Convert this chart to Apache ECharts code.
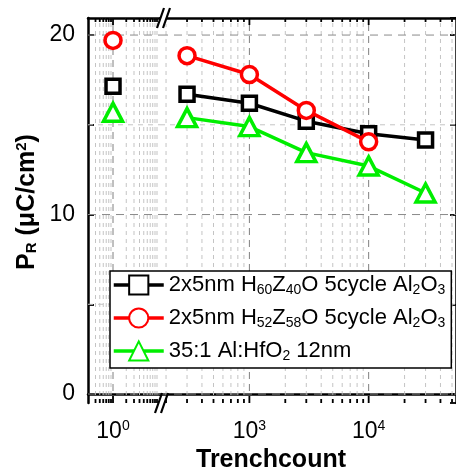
<!DOCTYPE html>
<html><head><meta charset="utf-8">
<script src="https://cdn.jsdelivr.net/npm/echarts@6/dist/echarts.min.js"></script>
<style>html,body{margin:0;padding:0;background:#fff}#c{width:456px;height:474px}</style>
</head><body><div id="c"></div>
<script>
// ---- data ----
const seriesNames = ['2x5nm H60Z40O 5cycle Al2O3', '2x5nm H52Z58O 5cycle Al2O3', '35:1 Al:HfO2 12nm'];
const legendRich = [
  '2x5nm H{s|60}Z{s|40}O 5cycle Al{s|2}O{s|3}',
  '2x5nm H{s|52}Z{s|58}O 5cycle Al{s|2}O{s|3}',
  '35:1 Al:HfO{s|2} 12nm'
];
const leftX = [1];
const rightX = [300, 1000, 3000, 10000, 30000];
const blackLeft = [17.15];
const blackRight = [16.7, 16.2, 15.2, 14.5, 14.15];
const redLeft = [19.7];
const redRight = [18.85, 17.8, 15.8, 14.05];
const greenLeft = [15.7];
const greenRight = [15.4, 14.9, 13.45, 12.7, 11.2];
const xMajorLeft = [1];
const xMinorLeft = [0.4, 0.5, 0.6, 0.7, 0.8, 0.9, 2, 3, 4, 5, 6, 7, 8, 9, 10];
const xMajorRight = [1000, 10000];
const xMinorRight = [200, 300, 400, 500, 600, 700, 800, 900, 2000, 3000, 4000, 5000, 6000, 7000, 8000, 9000, 20000, 30000, 40000, 50000];
const yMajor = [0, 10, 20];
const yMinor = [5, 15];
const xLeftRange = [0.27, 11.7];
const xRightRange = [178, 54000];
const yRange = [-0.5, 20.95];
const colors = ['#000000', '#ff0000', '#00ee00'];
const symbols = ['rect', 'circle', 'triangle'];
const symbolSizes = [14, 16, [19, 18]];

// ---- chart ----
const FONT = 'Arial, "Liberation Sans", sans-serif';
const chart = echarts.init(document.getElementById('c'), null, {renderer: 'canvas'});

function pairs(xs, ys) { return ys.map((y, i) => [xs[i], y]); }

function vGrid(params, api) {
  const x = api.value(0), major = api.value(1);
  const p0 = api.coord([x, yRange[0]]), p1 = api.coord([x, yRange[1]]);
  const L = major ? 7 : 4;
  return {type: 'group', children: [
    {type: 'line', shape: {x1: p0[0], y1: p0[1], x2: p1[0], y2: p1[1]},
      style: {stroke: major ? '#808080' : '#c4c4c4', lineWidth: 1, lineDash: major ? [7, 5] : [4, 4]}},
    {type: 'line', shape: {x1: p0[0], y1: p0[1], x2: p0[0], y2: p0[1] - L}, style: {stroke: '#000', lineWidth: 1.8}},
    {type: 'line', shape: {x1: p1[0], y1: p1[1], x2: p1[0], y2: p1[1] + L}, style: {stroke: '#000', lineWidth: 1.8}}
  ]};
}
function hGridFactory(xr) {
  return function (params, api) {
    const y = api.value(1), major = api.value(2);
    const p0 = api.coord([xr[0], y]), p1 = api.coord([xr[1], y]);
    return {type: 'line', shape: {x1: p0[0], y1: p0[1], x2: p1[0], y2: p1[1]},
      style: {stroke: major ? '#8a8a8a' : '#c4c4c4', lineWidth: 1, lineDash: major ? [8, 6] : [5, 5]}};
  };
}

const yData = yMajor.map(v => [0, v, 1]).concat(yMinor.map(v => [0, v, 0]));

const axisLineStyle = {lineStyle: {color: '#000', width: 2.5}};
function xAx(grid, range, pos, labels) {
  return {
    type: 'log', logBase: 10, gridIndex: grid, position: pos, min: range[0], max: range[1],
    axisLine: axisLineStyle, axisTick: {show: false}, splitLine: {show: false},
    axisLabel: labels ? {
      show: true, margin: 16, showMinLabel: false, showMaxLabel: false,
      formatter: v => {
        const e = Math.round(Math.log10(v));
        return labels.indexOf(e) >= 0 && Math.abs(Math.log10(v) - e) < 1e-6 ? '{b|10}{s|' + e + '}' : '';
      },
      rich: {
        b: {fontSize: 23, fontFamily: FONT, color: '#000', lineHeight: 26},
        s: {fontSize: 14, fontFamily: FONT, color: '#000', verticalAlign: 'top', lineHeight: 8}
      }
    } : {show: false}
  };
}

const series = [];
const lefts = [blackLeft, redLeft, greenLeft];
const rights = [blackRight, redRight, greenRight];
for (let i = 0; i < 3; i++) {
  const common = {
    type: 'line', name: seriesNames[i], symbol: symbols[i], symbolSize: symbolSizes[i],
    lineStyle: {color: colors[i], width: 3.5},
    itemStyle: {color: '#fff', borderColor: colors[i], borderWidth: 3.5},
    z: 5 + i, animation: false
  };
  series.push(Object.assign({}, common, {xAxisIndex: 0, yAxisIndex: 0, data: pairs(leftX, lefts[i])}));
  series.push(Object.assign({}, common, {xAxisIndex: 2, yAxisIndex: 1, data: pairs(rightX, rights[i])}));
}
series.push({type: 'custom', xAxisIndex: 0, yAxisIndex: 0, renderItem: vGrid, encode: {x: 0, y: 1}, z: 1, silent: true,
  data: xMajorLeft.map(v => [v, 1]).concat(xMinorLeft.map(v => [v, 0]))});
series.push({type: 'custom', xAxisIndex: 2, yAxisIndex: 1, renderItem: vGrid, encode: {x: 0, y: 1}, z: 1, silent: true,
  data: xMajorRight.map(v => [v, 1]).concat(xMinorRight.map(v => [v, 0]))});
series.push({type: 'custom', xAxisIndex: 0, yAxisIndex: 0, renderItem: hGridFactory(xLeftRange), encode: {x: 0, y: 1}, z: 1, silent: true,
  data: yData.map(d => [1, d[1], d[2]])});
series.push({type: 'custom', xAxisIndex: 2, yAxisIndex: 1, renderItem: hGridFactory(xRightRange), encode: {x: 0, y: 1}, z: 1, silent: true,
  data: yData.map(d => [1000, d[1], d[2]])});

const option = {
  animation: false,
  backgroundColor: '#fff',
  grid: [
    {left: 88, top: 18, width: 72, height: 385},
    {left: 160, top: 18, width: 298, height: 385}
  ],
  xAxis: [
    xAx(0, xLeftRange, 'bottom', [0]),
    xAx(0, xLeftRange, 'top', null),
    xAx(1, xRightRange, 'bottom', [3, 4]),
    xAx(1, xRightRange, 'top', null)
  ],
  yAxis: [
    {type: 'value', gridIndex: 0, min: yRange[0], max: yRange[1], splitNumber: 4,
      axisLine: axisLineStyle, axisTick: {show: true, inside: true, length: 6, lineStyle: {color: '#000', width: 1.8}},
      splitLine: {show: false},
      axisLabel: {show: true, margin: 13, fontSize: 23, fontFamily: FONT, color: '#000', showMinLabel: false, showMaxLabel: false,
        formatter: v => (Math.abs(v % 10) < 1e-9 ? String(v) : '')}},
    {type: 'value', gridIndex: 1, position: 'right', min: yRange[0], max: yRange[1], splitNumber: 4,
      axisLine: axisLineStyle, axisTick: {show: true, inside: true, length: 6, lineStyle: {color: '#000', width: 1.8}},
      splitLine: {show: false}, axisLabel: {show: false}}
  ],
  legend: {
    data: seriesNames, orient: 'vertical', left: 110, top: 271,
    itemWidth: 50, itemHeight: 24, itemGap: 9,
    padding: [2, 6, 5, 2],
    backgroundColor: '#fff', borderColor: '#000', borderWidth: 1.5, borderRadius: 0,
    lineStyle: {width: 3.5},
    formatter: name => legendRich[seriesNames.indexOf(name)],
    textStyle: {fontSize: 22, fontFamily: FONT, color: '#000', lineHeight: 24,
      rich: {s: {fontSize: 14, fontFamily: FONT, color: '#000', verticalAlign: 'bottom', lineHeight: 8}}},
    z: 20
  },
  graphic: [
    {type: 'rect', shape: {x: 158, y: 396, width: 7, height: 12}, style: {fill: '#fff'}, z: 50},
    {type: 'rect', shape: {x: 160, y: 12, width: 7, height: 12}, style: {fill: '#fff'}, z: 50},
    {type: 'line', shape: {x1: 155, y1: 413, x2: 162, y2: 393}, style: {stroke: '#000', lineWidth: 2.2}, z: 51},
    {type: 'line', shape: {x1: 161, y1: 413, x2: 168, y2: 393}, style: {stroke: '#000', lineWidth: 2.2}, z: 51},
    {type: 'line', shape: {x1: 157, y1: 28, x2: 164, y2: 8}, style: {stroke: '#000', lineWidth: 2.2}, z: 51},
    {type: 'line', shape: {x1: 163, y1: 28, x2: 170, y2: 8}, style: {stroke: '#000', lineWidth: 2.2}, z: 51},
    {type: 'text', x: 271, y: 460, z: 30,
      style: {text: 'Trenchcount', font: 'bold 25px ' + FONT, fill: '#000', align: 'center', verticalAlign: 'middle'}},
    {type: 'text', x: 27, y: 202, rotation: Math.PI / 2, z: 30,
      style: {text: 'P{s|R} (μC/cm{u|2})', font: 'bold 25px ' + FONT, fill: '#000', align: 'center', verticalAlign: 'middle',
        rich: {
          s: {fontSize: 15, fontWeight: 'bold', fontFamily: FONT, fill: '#000', verticalAlign: 'bottom', lineHeight: 6},
          u: {fontSize: 15, fontWeight: 'bold', fontFamily: FONT, fill: '#000', verticalAlign: 'top', lineHeight: 8}
        }}}
  ],
  series: series
};
chart.setOption(option);
</script>
</body></html>
